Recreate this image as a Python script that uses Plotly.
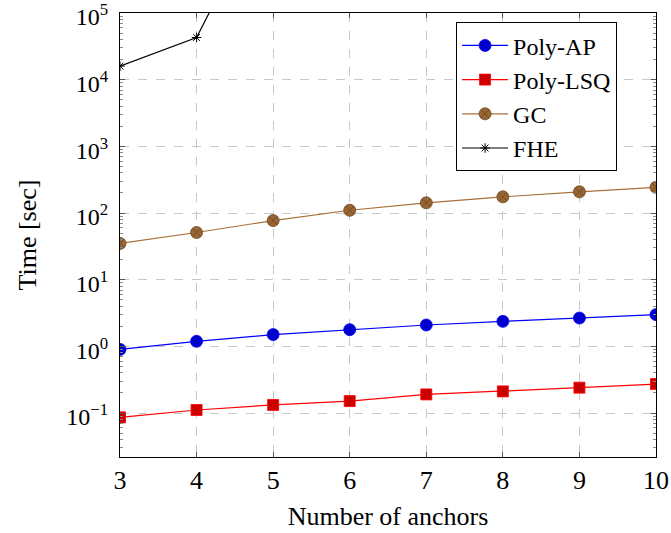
import plotly.graph_objects as go

# Benchmark timings (seconds) versus number of anchors
anchors = [3, 4, 5, 6, 7, 8, 9, 10]
poly_ap = [0.90, 1.19, 1.50, 1.78, 2.09, 2.37, 2.66, 2.99]
poly_lsq = [0.086, 0.111, 0.132, 0.151, 0.19, 0.211, 0.24, 0.272]
gc = [35, 51, 77, 110, 142, 175, 208, 243]
fhe_anchors = [3, 4, 5]
fhe = [1.6e4, 4.3e4, 7.5e6]

y_tick_vals = [1e-1, 1e0, 1e1, 1e2, 1e3, 1e4, 1e5]
y_tick_text = ["10<sup>−1</sup>", "10<sup>0</sup>", "10<sup>1</sup>", "10<sup>2</sup>",
               "10<sup>3</sup>", "10<sup>4</sup>", "10<sup>5</sup>"]

FONT = "Liberation Serif"
FS = 26

fig = go.Figure()
fig.add_trace(go.Scatter(
    x=anchors, y=poly_ap, name="Poly-AP", mode="lines+markers",
    line=dict(color="#0000ff", width=1.2),
    marker=dict(symbol="circle", size=12, color="#0000cc", line=dict(color="#0000ff", width=0.8)),
))
fig.add_trace(go.Scatter(
    x=anchors, y=poly_lsq, name="Poly-LSQ", mode="lines+markers",
    line=dict(color="#ff0000", width=1.2),
    marker=dict(symbol="square", size=11, color="#cc0000", line=dict(color="#ff0000", width=0.8)),
))
fig.add_trace(go.Scatter(
    x=anchors, y=gc, name="GC", mode="lines+markers",
    line=dict(color="#a86f38", width=1.2),
    marker=dict(symbol="circle-x", size=12, color="#996633", line=dict(color="#6b4520", width=0.8)),
))
fig.add_trace(go.Scatter(
    x=fhe_anchors, y=fhe, name="FHE", mode="lines+markers",
    line=dict(color="#000000", width=1.2),
    marker=dict(symbol="asterisk-open", size=8, color="#000000", line=dict(color="#000000", width=1)),
))

fig.update_layout(
    width=671, height=533,
    margin=dict(l=120, r=15, t=13, b=76, autoexpand=False),
    plot_bgcolor="white", paper_bgcolor="white",
    font=dict(family=FONT, size=FS, color="black"),
    showlegend=True,
    legend=dict(
        x=0.627, y=0.979, xanchor="left", yanchor="top",
        bgcolor="white", bordercolor="black", borderwidth=1,
        font=dict(family=FONT, size=24),
        itemwidth=46, tracegroupgap=0,
        entrywidth=185, entrywidthmode="pixels",
    ),
    xaxis=dict(
        range=[3, 10], tickvals=anchors, ticks="inside", ticklen=5, tickcolor="#555",
        showline=True, linecolor="black", linewidth=1, mirror="ticks",
        showgrid=True, gridcolor="#c8c8c8", griddash="dash", gridwidth=1,
        zeroline=False, automargin=False, ticklabeloverflow="allow",
        title=dict(text="Number of anchors", font=dict(family=FONT, size=FS), standoff=12),
        tickfont=dict(family=FONT, size=FS),
    ),
    yaxis=dict(
        type="log", range=[-1.66, 5.0005],
        tickvals=y_tick_vals, ticktext=y_tick_text,
        ticks="inside", ticklen=5, tickcolor="#555",
        showline=True, linecolor="black", linewidth=1, mirror="ticks",
        showgrid=True, gridcolor="#c8c8c8", griddash="dash", gridwidth=1,
        zeroline=False, automargin=False, ticklabelstandoff=6, ticklabelshift=4,
        ticklabeloverflow="allow",
        minor=dict(dtick="D1", ticks="inside", ticklen=3, tickcolor="#888", showgrid=False),
        title=dict(text="Time [sec]", font=dict(family=FONT, size=FS), standoff=22),
        tickfont=dict(family=FONT, size=24),
    ),
)

fig.write_html("out.html")
